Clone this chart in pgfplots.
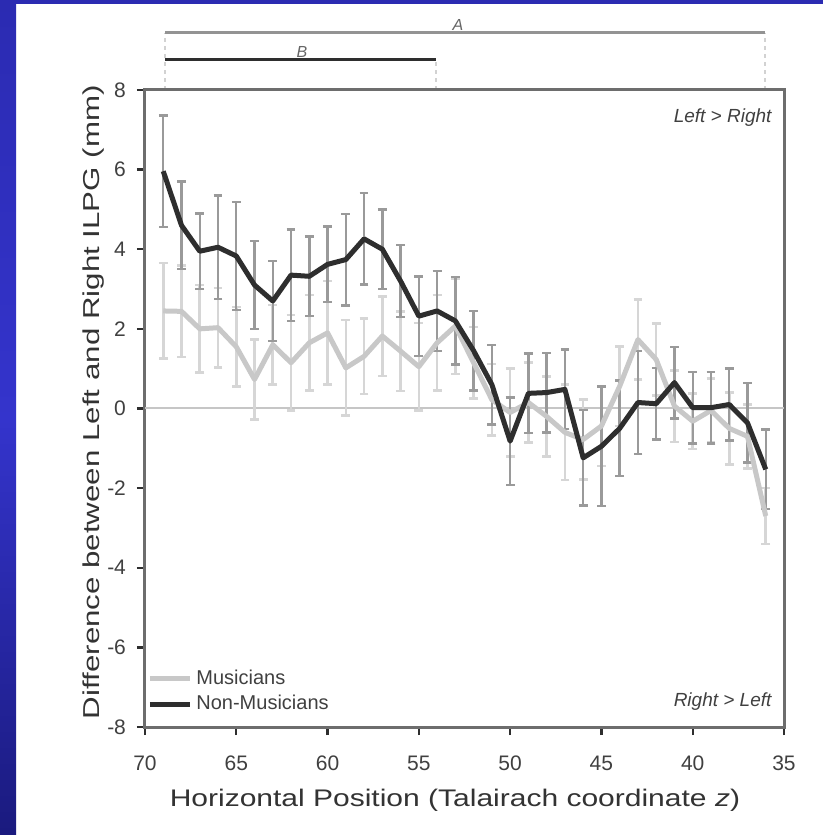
\documentclass[border=0pt]{standalone}
\usepackage{pgfplots}
\pgfplotsset{compat=1.18}
\usepackage{pgfplotstable}
\usepackage{fontspec}
\setmainfont{Liberation Sans}
\usepackage{graphicx}

\definecolor{bgblue}{HTML}{2B2BB2}
\definecolor{bgbluemid}{HTML}{3434CC}
\definecolor{bgbluedark}{HTML}{1A1A7E}
\definecolor{nmline}{HTML}{2E2E2E}
\definecolor{mline}{HTML}{C8C8C8}
\definecolor{nmbar}{HTML}{9A9A9A}
\definecolor{mbar}{HTML}{D6D6D6}

% x = Talairach z, nm/nme = non-musicians mean/error, m/me = musicians
\pgfplotstableread{
x  nm    nme   m     me
69 5.96  1.40  2.45  1.20
68 4.60  1.10  2.44  1.15
67 3.95  0.95  2.00  1.10
66 4.05  1.30  2.03  1.00
65 3.83  1.35  1.55  1.00
64 3.10  1.10  0.73  1.00
63 2.70  1.00  1.60  1.00
62 3.35  1.15  1.15  1.20
61 3.32  1.00  1.65  1.20
60 3.62  0.95  1.90  1.30
59 3.74  1.15  1.02  1.20
58 4.26  1.15  1.31  0.95
57 4.00  1.00  1.82  1.00
56 3.20  0.90  1.44  1.00
55 2.32  1.00  1.05  1.10
54 2.45  1.00  1.65  1.20
53 2.20  1.10  2.07  1.20
52 1.45  1.00  1.15  0.90
51 0.60  1.00  0.22  0.90
50 -0.82 1.10  -0.10 1.10
49 0.38  1.00  0.15  1.00
48 0.40  1.00  -0.20 1.00
47 0.48  1.00  -0.60 1.20
46 -1.24 1.20  -0.78 1.00
45 -0.95 1.50  -0.44 1.00
44 -0.50 1.20  0.56  1.00
43 0.15  1.30  1.73  1.00
42 0.12  0.90  1.23  0.90
41 0.65  0.90  0.06  0.90
40 0.02  0.90  -0.32 0.70
39 0.02  0.90  -0.05 0.80
38 0.10  0.90  -0.50 0.90
37 -0.36 1.00  -0.70 0.80
36 -1.53 1.00  -2.70 0.70
}\ilpg

\begin{document}
\begin{tikzpicture}
\begin{scope}[x=0.5pt,y=0.5pt]
% background panel
\fill[white] (0,0) rectangle (823,835);
\fill[bgblue] (0,831) rectangle (823,835);
\shade[top color=bgblue, bottom color=bgbluedark, middle color=bgbluemid] (0,0) rectangle (16,831);

% brackets above the plot
\draw[gray!35, line width=1pt, dash pattern=on 2pt off 2pt] (165,745) -- (165,802);
\draw[gray!35, line width=1pt, dash pattern=on 2pt off 2pt] (436,745) -- (436,775);
\draw[gray!35, line width=1pt, dash pattern=on 2pt off 2pt] (765,745) -- (765,802);
\draw[gray!85, line width=1.5pt] (165,802) -- (765,802);
\draw[nmline, line width=1.5pt] (165,775) -- (436,775);
\node[font=\fontsize{8}{9}\selectfont\itshape, text=gray!80!black, anchor=south, inner sep=1pt] at (458,802) {A};
\node[font=\fontsize{8}{9}\selectfont\itshape, text=gray!80!black, anchor=south, inner sep=1pt] at (302,775) {B};
\end{scope}

\begin{axis}[
    at={(72.5pt,54pt)}, anchor=south west,
    scale only axis,
    width=319.5pt, height=318.5pt,
    x dir=reverse,
    xmin=35, xmax=70, ymin=-8, ymax=8,
    xtick={35,40,...,70}, ytick={-8,-6,...,8},
    tick align=outside, tick pos=left,
    major tick length=4pt,
    every tick/.style={nmline, line width=1.2pt},
    axis line style={nmline!70, line width=1.5pt},
    /pgf/number format/assume math mode=true,
    tick label style={font=\fontsize{10.5}{12}\selectfont, text=black!75},
    xticklabel style={yshift=-7pt},
    yticklabel style={xshift=-2pt},
    xlabel={\scalebox{1.25}[1]{Horizontal Position (Talairach coordinate \textit{z})}},
    ylabel={\scalebox{1.36}[1]{Difference between Left and Right ILPG (mm)}},
    xlabel style={font=\fontsize{12}{14}\selectfont, text=black!80, at={(axis description cs:0.485,-0.115)}, anchor=center},
    ylabel style={font=\fontsize{11.5}{13}\selectfont, text=black!80, at={(axis description cs:-0.08,0.51)}, anchor=center},
    clip=false,
    legend style={at={(axis description cs:0.0,0.012)}, anchor=south west, draw=none, fill=none,
        font=\fontsize{10}{11}\selectfont, text=black!75, row sep=0pt, inner sep=1pt},
    legend cell align=left,
    legend image code/.code={\draw[#1] (0pt,0pt) -- (20pt,0pt);},
]
% zero line
\addplot[gray!45, line width=1pt, forget plot] coordinates {(70,0) (35,0)};

% error bars
\addplot[draw=none, forget plot,
    error bars/.cd, y dir=both, y explicit,
    error bar style={mbar, line width=1.3pt},
    error mark options={mbar, rotate=90, mark size=2.2pt, line width=1.3pt}]
    table[x=x, y=m, y error=me] {\ilpg};
\addplot[draw=none, forget plot,
    error bars/.cd, y dir=both, y explicit,
    error bar style={nmbar, line width=1.2pt},
    error mark options={nmbar, rotate=90, mark size=2.2pt, line width=1.2pt}]
    table[x=x, y=nm, y error=nme] {\ilpg};

% means
\addplot[mline, line width=2.5pt, line join=round] table[x=x, y=m] {\ilpg};
\addplot[nmline, line width=2.5pt, line join=round] table[x=x, y=nm] {\ilpg};
\legend{Musicians, Non-Musicians}

\node[anchor=north east, font=\fontsize{9.5}{11}\selectfont\itshape, text=black!75] at (axis cs:35.3,7.7) {Left > Right};
\node[anchor=south east, font=\fontsize{9.5}{11}\selectfont\itshape, text=black!75] at (axis cs:35.3,-7.75) {Right > Left};
\end{axis}
\end{tikzpicture}
\end{document}
